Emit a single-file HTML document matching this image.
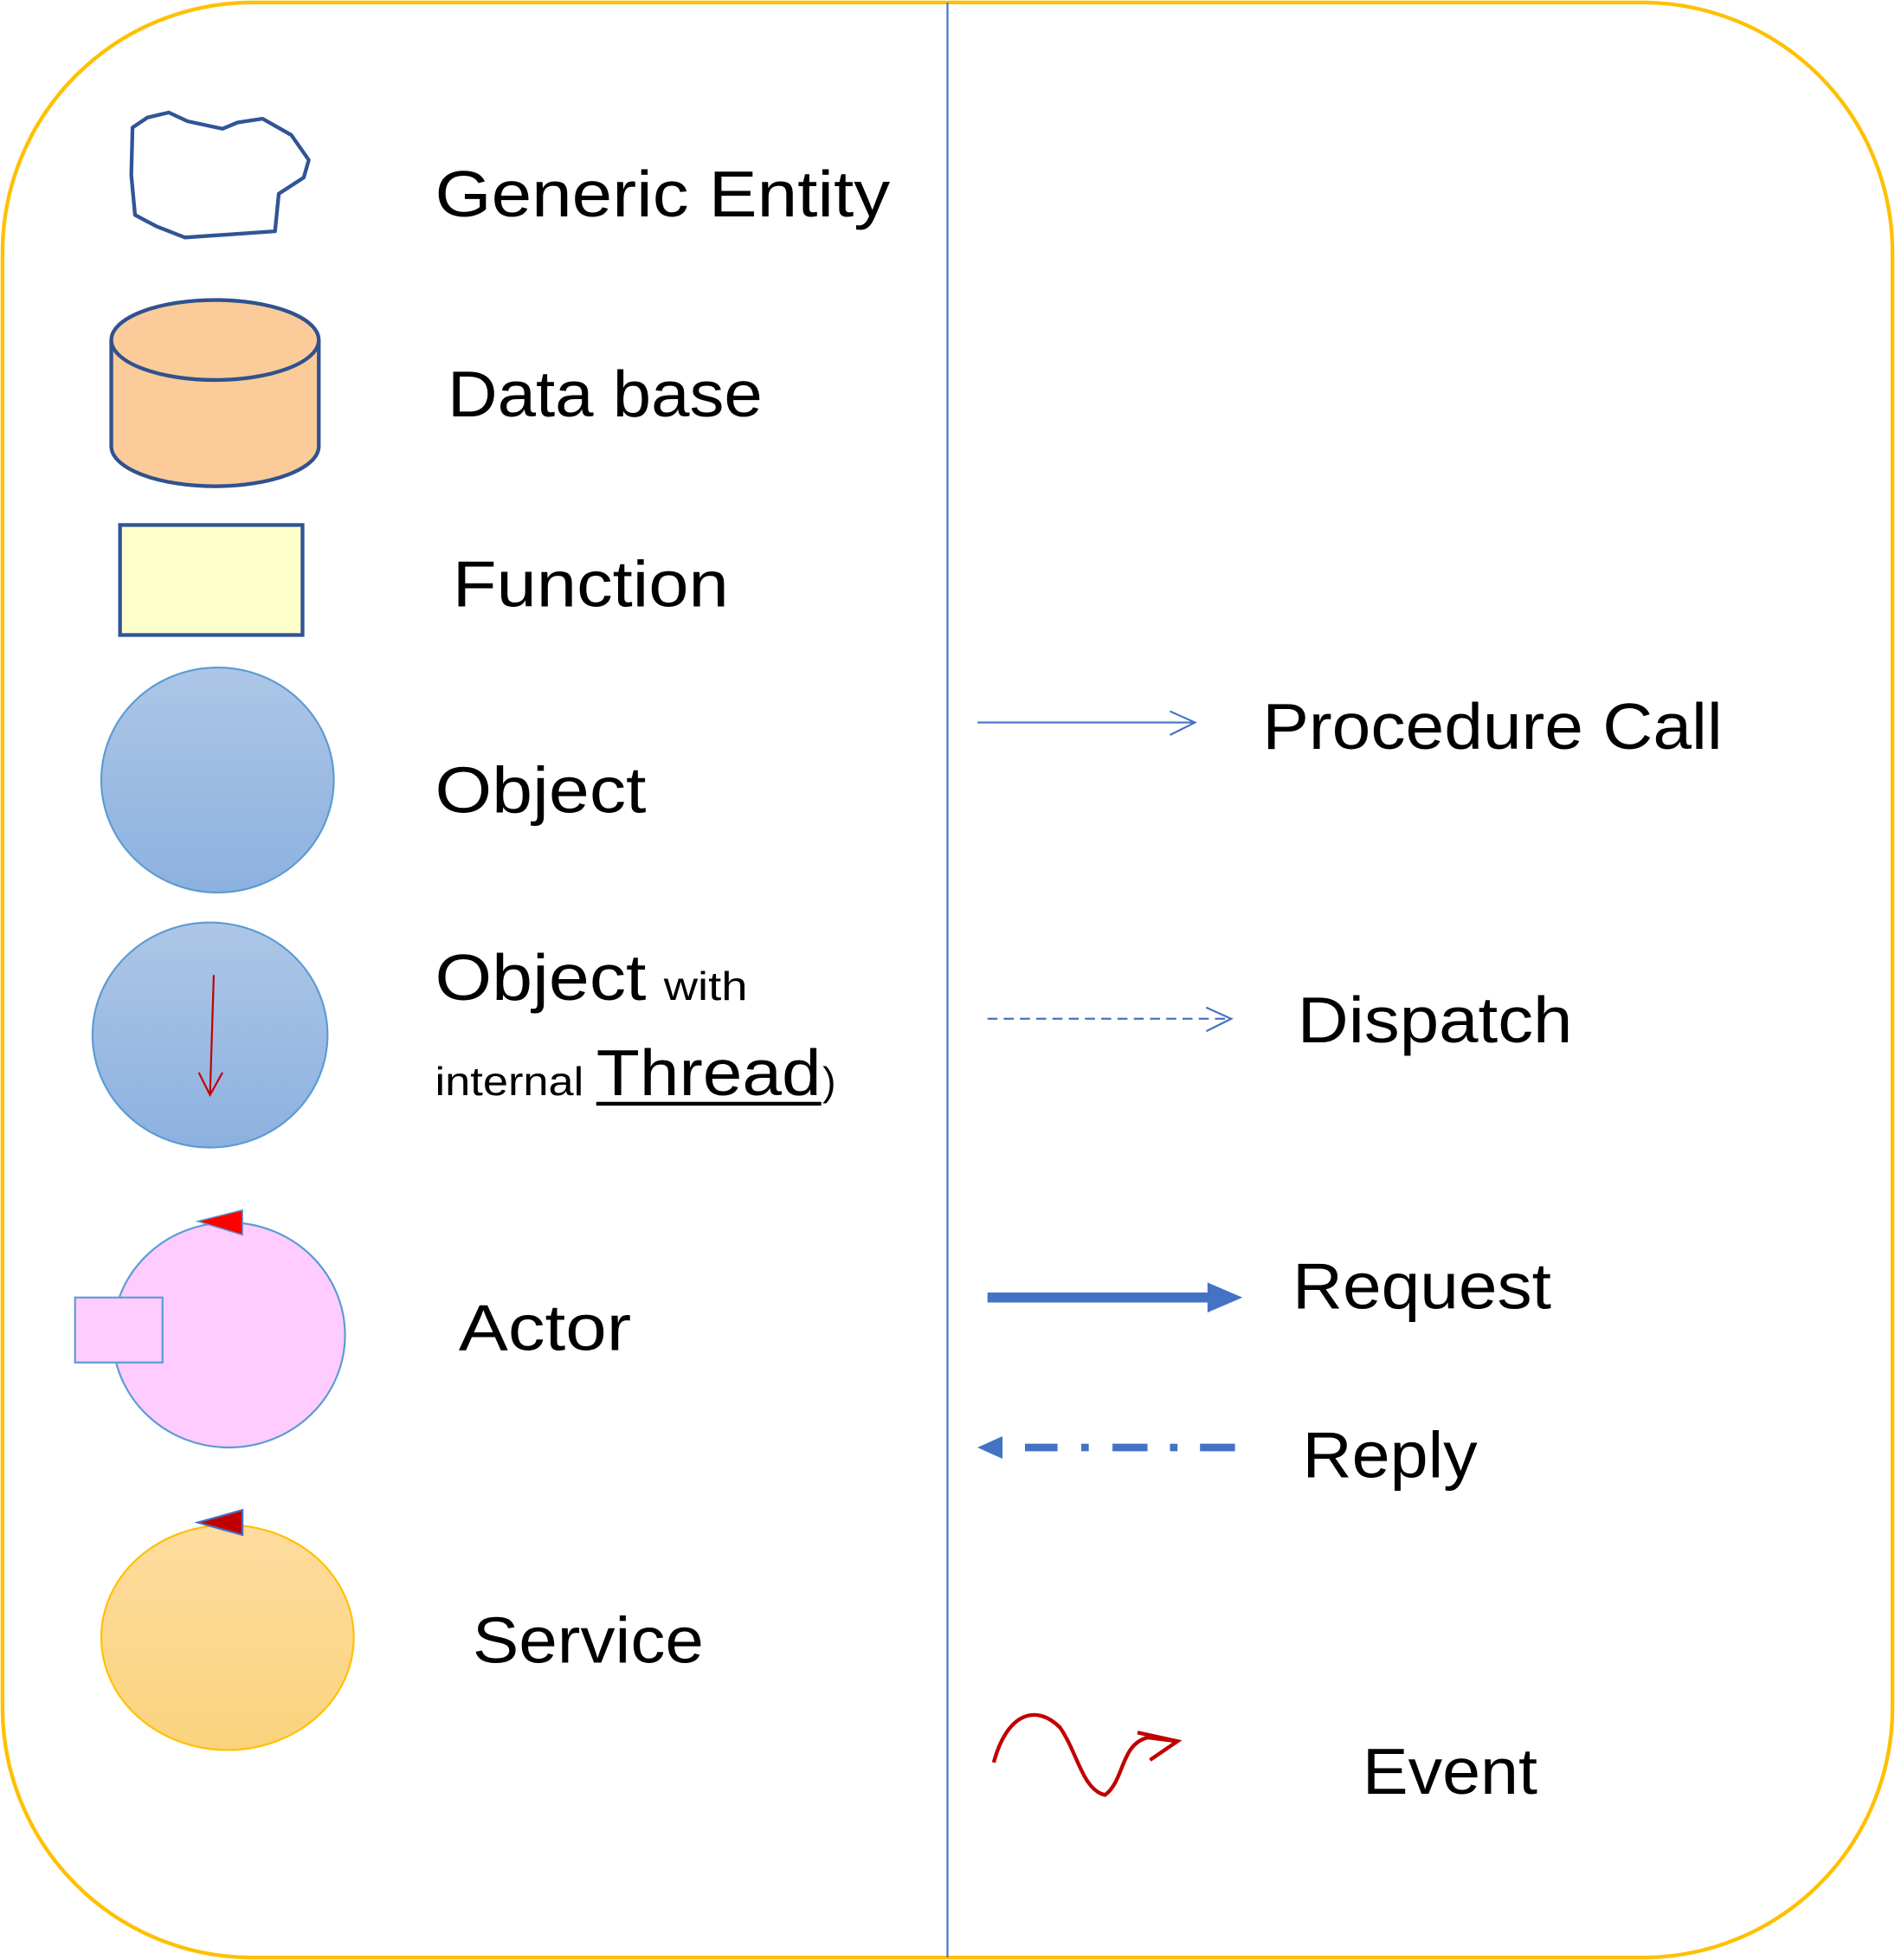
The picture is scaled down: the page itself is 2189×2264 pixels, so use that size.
<!DOCTYPE html>
<html><head><meta charset="utf-8"><style>
html,body{margin:0;padding:0;background:#fff;}
svg{display:block;}
text{font-family:"Liberation Sans",sans-serif;fill:#000;}
</style></head><body>
<svg width="2189" height="2264" viewBox="0 0 1516 1568" xmlns="http://www.w3.org/2000/svg">
<defs>
<linearGradient id="gb" x1="0" y1="0" x2="0" y2="1"><stop offset="0" stop-color="#ADC6E6"/><stop offset="1" stop-color="#8DB1E0"/></linearGradient>
<linearGradient id="go" x1="0" y1="0" x2="0" y2="1"><stop offset="0" stop-color="#FDDC9E"/><stop offset="1" stop-color="#FBD37E"/></linearGradient>
</defs>
<rect x="2" y="2" width="1512" height="1564" rx="200" ry="200" fill="#fff" stroke="#FFC000" stroke-width="3"/>
<line x1="758" y1="2" x2="758" y2="1566" stroke="#4472C4" stroke-width="1.5"/>

<path d="M106,102 L118,94 L135,90 L150,97 L178,103 L190,98 L210,95 L233,108 L247,128 L243,142 L223,155 L220,185 L148,190 L125,181 L108,172 L105,140 Z" fill="none" stroke="#2F5597" stroke-width="3" stroke-linejoin="round"/>
<text x="348" y="173" font-size="52" textLength="364" lengthAdjust="spacingAndGlyphs">Generic Entity</text>

<path d="M89,272 L89,357 A83,32 0 0 0 255,357 L255,272" fill="#FBCB9A" stroke="#2F528F" stroke-width="3"/>
<ellipse cx="172" cy="272" rx="83" ry="32" fill="#FBCB9A" stroke="#2F528F" stroke-width="3"/>
<text x="358" y="333" font-size="52" textLength="252" lengthAdjust="spacingAndGlyphs">Data base</text>

<rect x="96" y="420" width="146" height="88" fill="#FFFFCC" stroke="#2F5597" stroke-width="3"/>
<text x="362" y="485" font-size="52" textLength="221" lengthAdjust="spacingAndGlyphs">Function</text>

<ellipse cx="174" cy="624" rx="93" ry="90" fill="url(#gb)" stroke="#5B9BD5" stroke-width="1.5"/>
<text x="348" y="650" font-size="52" textLength="169" lengthAdjust="spacingAndGlyphs">Object</text>

<ellipse cx="168" cy="828" rx="94" ry="90" fill="url(#gb)" stroke="#5B9BD5" stroke-width="1.5"/>
<line x1="171" y1="780" x2="168" y2="876" stroke="#C00000" stroke-width="1.5"/>
<polyline points="159,858 168,876 178,858" fill="none" stroke="#C00000" stroke-width="1.5"/>
<text x="348" y="800" font-size="52" textLength="169" lengthAdjust="spacingAndGlyphs">Object</text>
<text x="531" y="800" font-size="32" textLength="67" lengthAdjust="spacingAndGlyphs">with</text>
<text x="348" y="876" font-size="32" textLength="119" lengthAdjust="spacingAndGlyphs">internal</text>
<text x="477" y="876" font-size="52" textLength="180" lengthAdjust="spacingAndGlyphs">Thread</text>
<text x="658" y="876" font-size="32">)</text>
<line x1="477" y1="883" x2="657" y2="883" stroke="#000" stroke-width="3"/>

<ellipse cx="183" cy="1068" rx="93" ry="90" fill="#FFCCFF" stroke="#5B9BD5" stroke-width="1.5"/>
<rect x="60" y="1038" width="70" height="52" fill="#FFCCFF" stroke="#5B9BD5" stroke-width="1.5"/>
<polygon points="158,977 194,968 194,988" fill="#FF0000" stroke="#5B9BD5" stroke-width="1"/>
<text x="367" y="1080" font-size="52" textLength="138" lengthAdjust="spacingAndGlyphs">Actor</text>

<ellipse cx="182" cy="1310" rx="101" ry="90" fill="url(#go)" stroke="#FFC000" stroke-width="1.5"/>
<polygon points="158,1218 194,1208 194,1228" fill="#C00000" stroke="#4472C4" stroke-width="1.5"/>
<text x="378" y="1330" font-size="52" textLength="185" lengthAdjust="spacingAndGlyphs">Service</text>

<line x1="782" y1="578" x2="955" y2="578" stroke="#4472C4" stroke-width="1.5"/>
<polyline points="936,569 956,578 936,588" fill="none" stroke="#4472C4" stroke-width="1.5"/>
<text x="1010" y="599" font-size="52" textLength="368" lengthAdjust="spacingAndGlyphs">Procedure Call</text>

<line x1="790" y1="815" x2="984" y2="815" stroke="#4472C4" stroke-width="1.5" stroke-dasharray="8,5"/>
<polyline points="965,806 985,815 965,825" fill="none" stroke="#4472C4" stroke-width="1.5"/>
<text x="1038" y="834" font-size="52" textLength="220" lengthAdjust="spacingAndGlyphs">Dispatch</text>

<line x1="790" y1="1038" x2="970" y2="1038" stroke="#4472C4" stroke-width="8"/>
<polygon points="966,1026 994,1038 966,1050" fill="#4472C4"/>
<text x="1034" y="1047" font-size="52" textLength="207" lengthAdjust="spacingAndGlyphs">Request</text>

<polygon points="782,1158 802,1149 802,1167" fill="#4472C4"/>
<g stroke="#4472C4" stroke-width="6">
<line x1="820" y1="1158" x2="846" y2="1158"/>
<line x1="865" y1="1158" x2="871" y2="1158"/>
<line x1="890" y1="1158" x2="918" y2="1158"/>
<line x1="936" y1="1158" x2="942" y2="1158"/>
<line x1="960" y1="1158" x2="988" y2="1158"/>
</g>
<text x="1042" y="1182" font-size="52" textLength="140" lengthAdjust="spacingAndGlyphs">Reply</text>

<path d="M795,1410 C805,1372 828,1362 848,1382 C862,1402 866,1432 884,1436 C900,1424 896,1396 918,1390 L942,1393" fill="none" stroke="#C00000" stroke-width="3"/>
<polyline points="910,1386 942,1393 920,1408" fill="none" stroke="#C00000" stroke-width="3"/>
<text x="1090" y="1435" font-size="52" textLength="140" lengthAdjust="spacingAndGlyphs">Event</text>
</svg>
</body></html>
